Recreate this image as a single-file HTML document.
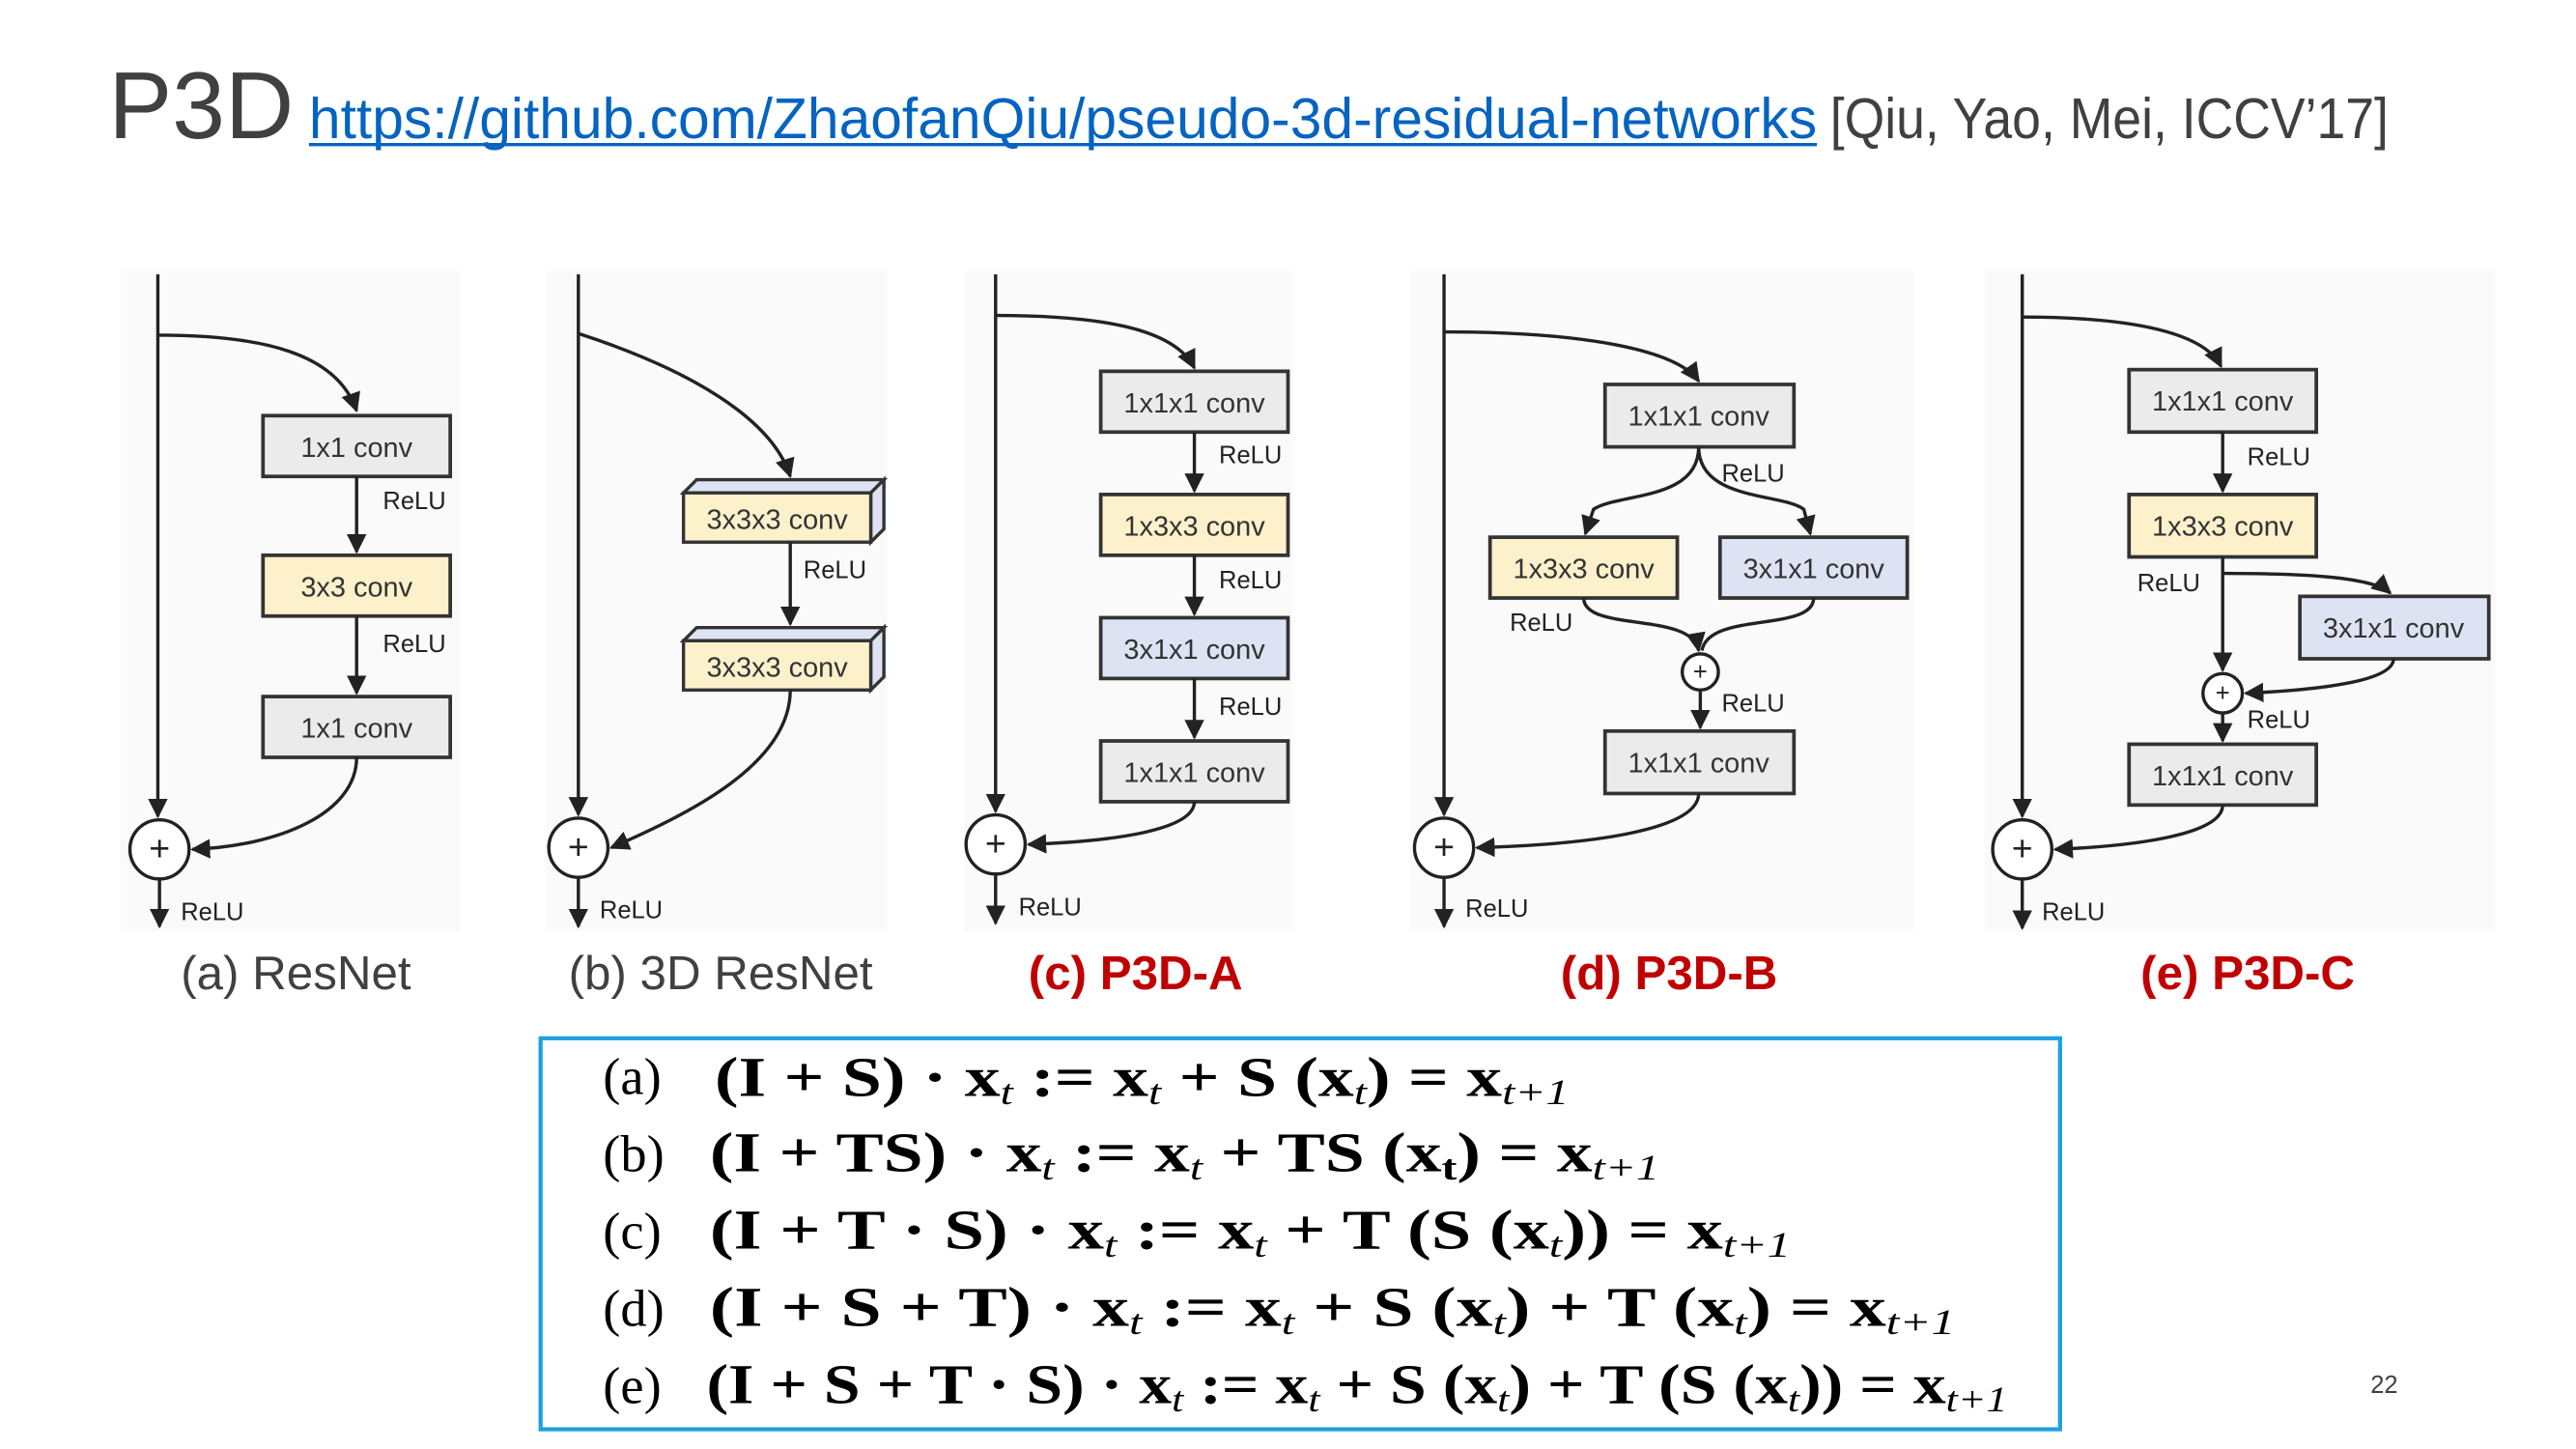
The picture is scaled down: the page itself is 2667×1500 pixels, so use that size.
<!DOCTYPE html>
<html><head><meta charset="utf-8"><style>
html,body{margin:0;padding:0;background:#fff;}
svg{display:block}
.bx{stroke:#333;stroke-width:2.2}
.g{fill:#ebebeb}.y{fill:#fdf1cc}.b{fill:#dde3f3}
.l{stroke:#222;stroke-width:2;fill:none}
.t{font-family:"Liberation Sans",sans-serif;font-size:17px;fill:#333;text-anchor:middle}
.r{font-family:"Liberation Sans",sans-serif;font-size:15px;fill:#222}
.cap{font-family:"Liberation Sans",sans-serif;font-size:29px;fill:#404040}
.red{font-family:"Liberation Sans",sans-serif;font-size:29px;fill:#c00000;font-weight:bold}
.eq{font-family:"Liberation Serif",serif;font-size:34px;fill:#000;font-weight:bold}
.lab{font-family:"Liberation Serif",serif;font-size:32px;fill:#000}
</style></head><body>
<svg width="2667" height="1500" viewBox="0 0 1568 882" xmlns="http://www.w3.org/2000/svg">
<defs><marker id="a" viewBox="0 0 10 10" refX="9" refY="5" markerWidth="6" markerHeight="6" orient="auto-start-reverse"><path d="M0,0L10,5L0,10z" fill="#222"/></marker></defs>
<rect width="1568" height="882" fill="#fff"/>
<text x="66" y="84" font-family="Liberation Sans,sans-serif" font-size="58" fill="#404040">P3D</text>
<text x="188" y="84" font-family="Liberation Sans,sans-serif" font-size="35" fill="#0563c1" textLength="918" lengthAdjust="spacingAndGlyphs">https://github.com/ZhaofanQiu/pseudo-3d-residual-networks</text>
<line x1="188" y1="88" x2="1106" y2="88" stroke="#0563c1" stroke-width="2"/>
<text x="1114" y="84" font-family="Liberation Sans,sans-serif" font-size="35" fill="#404040" textLength="340" lengthAdjust="spacingAndGlyphs">[Qiu, Yao, Mei, ICCV’17]</text>

<g fill="#fafafa"><rect x="73" y="165" width="207" height="402"/><rect x="332" y="165" width="208" height="402"/><rect x="587" y="165" width="200" height="402"/><rect x="858" y="165" width="307" height="402"/><rect x="1208" y="165" width="311" height="402"/></g>

<!-- (a) -->
<line class="l" x1="96" y1="167" x2="96" y2="497" marker-end="url(#a)"/>
<path class="l" d="M96,204 C160,204 205,215 217,250" marker-end="url(#a)"/>
<rect class="bx g" x="160" y="253" width="114" height="37"/><text class="t" x="217" y="278">1x1 conv</text>
<line class="l" x1="217" y1="290" x2="217" y2="336" marker-end="url(#a)"/><text class="r" x="233" y="310">ReLU</text>
<rect class="bx y" x="160" y="338" width="114" height="37"/><text class="t" x="217" y="363">3x3 conv</text>
<line class="l" x1="217" y1="375" x2="217" y2="422" marker-end="url(#a)"/><text class="r" x="233" y="397">ReLU</text>
<rect class="bx g" x="160" y="424" width="114" height="37"/><text class="t" x="217" y="449">1x1 conv</text>
<path class="l" d="M217,461 C217,495 170,515 117,517" marker-end="url(#a)"/>
<circle cx="97" cy="517" r="18" fill="#fff" stroke="#222" stroke-width="2"/><text x="97" y="524" text-anchor="middle" font-family="Liberation Sans" font-size="22" fill="#222">+</text>
<line class="l" x1="97" y1="535" x2="97" y2="564" marker-end="url(#a)"/><text class="r" x="110" y="560">ReLU</text>
<text class="cap" x="110" y="602">(a) ResNet</text>

<!-- (b) -->
<line class="l" x1="352" y1="167" x2="352" y2="496" marker-end="url(#a)"/>
<path class="l" d="M352,203 C420,225 470,255 481,290" marker-end="url(#a)"/>
<g stroke="#333" stroke-width="2"><path d="M416,300 L424,292 L538,292 L530,300z" fill="#dde3f3"/><path d="M530,300 L538,292 L538,322 L530,330z" fill="#dde3f3"/><rect x="416" y="300" width="114" height="30" fill="#fdf1cc"/>
<path d="M416,390 L424,382 L538,382 L530,390z" fill="#dde3f3"/><path d="M530,390 L538,382 L538,412 L530,420z" fill="#dde3f3"/><rect x="416" y="390" width="114" height="30" fill="#fdf1cc"/></g>
<text class="t" x="473" y="322">3x3x3 conv</text><text class="t" x="473" y="412">3x3x3 conv</text>
<line class="l" x1="481" y1="330" x2="481" y2="380" marker-end="url(#a)"/><text class="r" x="489" y="352">ReLU</text>
<path class="l" d="M481,420 C481,465 420,495 372,516" marker-end="url(#a)"/>
<circle cx="352" cy="516" r="18" fill="#fff" stroke="#222" stroke-width="2"/><text x="352" y="523" text-anchor="middle" font-family="Liberation Sans" font-size="22" fill="#222">+</text>
<line class="l" x1="352" y1="534" x2="352" y2="564" marker-end="url(#a)"/><text class="r" x="365" y="559">ReLU</text>
<text class="cap" x="346" y="602">(b) 3D ResNet</text>

<!-- (c) -->
<line class="l" x1="606" y1="167" x2="606" y2="494" marker-end="url(#a)"/>
<path class="l" d="M606,192 C670,192 715,200 727,224" marker-end="url(#a)"/>
<rect class="bx g" x="670" y="226" width="114" height="37"/><text class="t" x="727" y="251">1x1x1 conv</text>
<line class="l" x1="727" y1="263" x2="727" y2="299" marker-end="url(#a)"/><text class="r" x="742" y="282">ReLU</text>
<rect class="bx y" x="670" y="301" width="114" height="37"/><text class="t" x="727" y="326">1x3x3 conv</text>
<line class="l" x1="727" y1="338" x2="727" y2="374" marker-end="url(#a)"/><text class="r" x="742" y="358">ReLU</text>
<rect class="bx b" x="670" y="376" width="114" height="37"/><text class="t" x="727" y="401">3x1x1 conv</text>
<line class="l" x1="727" y1="413" x2="727" y2="449" marker-end="url(#a)"/><text class="r" x="742" y="435">ReLU</text>
<rect class="bx g" x="670" y="451" width="114" height="37"/><text class="t" x="727" y="476">1x1x1 conv</text>
<path class="l" d="M727,488 C727,505 680,512 626,514" marker-end="url(#a)"/>
<circle cx="606" cy="514" r="18" fill="#fff" stroke="#222" stroke-width="2"/><text x="606" y="521" text-anchor="middle" font-family="Liberation Sans" font-size="22" fill="#222">+</text>
<line class="l" x1="606" y1="532" x2="606" y2="562" marker-end="url(#a)"/><text class="r" x="620" y="557">ReLU</text>
<text class="red" x="626" y="602">(c) P3D-A</text>

<!-- (d) -->
<line class="l" x1="879" y1="167" x2="879" y2="496" marker-end="url(#a)"/>
<path class="l" d="M879,202 C960,202 1020,212 1034,232" marker-end="url(#a)"/>
<rect class="bx g" x="977" y="234" width="115" height="38"/><text class="t" x="1034" y="259">1x1x1 conv</text>
<text class="r" x="1048" y="293">ReLU</text>
<path class="l" d="M1034,272 C1034,305 985,300 970,310 L965,325" marker-end="url(#a)"/>
<path class="l" d="M1034,272 C1034,305 1085,300 1098,310 L1102,325" marker-end="url(#a)"/>
<rect class="bx y" x="907" y="327" width="114" height="37"/><text class="t" x="964" y="352">1x3x3 conv</text>
<rect class="bx b" x="1047" y="327" width="114" height="37"/><text class="t" x="1104" y="352">3x1x1 conv</text>
<text class="r" x="919" y="384">ReLU</text>
<path class="l" d="M964,364 C964,385 1030,372 1034,396" marker-end="url(#a)"/>
<path class="l" d="M1104,364 C1104,385 1040,372 1036,396"/>
<circle cx="1035" cy="409" r="11" fill="#fff" stroke="#222" stroke-width="2"/><text x="1035" y="414" text-anchor="middle" font-family="Liberation Sans" font-size="15" fill="#222">+</text>
<line class="l" x1="1035" y1="420" x2="1035" y2="443" marker-end="url(#a)"/><text class="r" x="1048" y="433">ReLU</text>
<rect class="bx g" x="977" y="445" width="115" height="38"/><text class="t" x="1034" y="470">1x1x1 conv</text>
<path class="l" d="M1034,483 C1034,505 970,514 899,516" marker-end="url(#a)"/>
<circle cx="879" cy="516" r="18" fill="#fff" stroke="#222" stroke-width="2"/><text x="879" y="523" text-anchor="middle" font-family="Liberation Sans" font-size="22" fill="#222">+</text>
<line class="l" x1="879" y1="534" x2="879" y2="564" marker-end="url(#a)"/><text class="r" x="892" y="558">ReLU</text>
<text class="red" x="950" y="602">(d) P3D-B</text>

<!-- (e) -->
<line class="l" x1="1231" y1="167" x2="1231" y2="497" marker-end="url(#a)"/>
<path class="l" d="M1231,193 C1300,193 1342,203 1352,223" marker-end="url(#a)"/>
<rect class="bx g" x="1296" y="225" width="114" height="38"/><text class="t" x="1353" y="250">1x1x1 conv</text>
<line class="l" x1="1353" y1="263" x2="1353" y2="299" marker-end="url(#a)"/><text class="r" x="1368" y="283">ReLU</text>
<rect class="bx y" x="1296" y="301" width="114" height="38"/><text class="t" x="1353" y="326">1x3x3 conv</text>
<text class="r" x="1301" y="360">ReLU</text>
<line class="l" x1="1353" y1="339" x2="1353" y2="408" marker-end="url(#a)"/>
<path class="l" d="M1353,349 C1410,349 1445,352 1455,361" marker-end="url(#a)"/>
<rect class="bx b" x="1400" y="363" width="115" height="38"/><text class="t" x="1457" y="388">3x1x1 conv</text>
<path class="l" d="M1457,401 C1457,415 1410,420 1367,422" marker-end="url(#a)"/>
<circle cx="1353" cy="422" r="12" fill="#fff" stroke="#222" stroke-width="2"/><text x="1353" y="427" text-anchor="middle" font-family="Liberation Sans" font-size="15" fill="#222">+</text>
<line class="l" x1="1353" y1="434" x2="1353" y2="451" marker-end="url(#a)"/><text class="r" x="1368" y="443">ReLU</text>
<rect class="bx g" x="1296" y="453" width="114" height="37"/><text class="t" x="1353" y="478">1x1x1 conv</text>
<path class="l" d="M1353,490 C1353,508 1300,515 1251,517" marker-end="url(#a)"/>
<circle cx="1231" cy="517" r="18" fill="#fff" stroke="#222" stroke-width="2"/><text x="1231" y="524" text-anchor="middle" font-family="Liberation Sans" font-size="22" fill="#222">+</text>
<line class="l" x1="1231" y1="535" x2="1231" y2="565" marker-end="url(#a)"/><text class="r" x="1243" y="560">ReLU</text>
<text class="red" x="1303" y="602">(e) P3D-C</text>

<!-- equations -->
<rect x="329" y="632" width="925" height="238" fill="#fff" stroke="#1ea0e0" stroke-width="2.5"/>
<text class="lab" x="367" y="666">(a)</text>
<text class="lab" x="367" y="713">(b)</text>
<text class="lab" x="367" y="760">(c)</text>
<text class="lab" x="367" y="807">(d)</text>
<text class="lab" x="367" y="854">(e)</text>
<text class="eq" x="435" y="667" textLength="520" lengthAdjust="spacingAndGlyphs">(I + S) · x<tspan font-style="italic" font-weight="normal" font-size="22" dy="5">t</tspan><tspan dy="-5"> := x</tspan><tspan font-style="italic" font-weight="normal" font-size="22" dy="5">t</tspan><tspan dy="-5"> + S (x</tspan><tspan font-style="italic" font-weight="normal" font-size="22" dy="5">t</tspan><tspan dy="-5">) = x</tspan><tspan font-style="italic" font-weight="normal" font-size="22" dy="5">t+1</tspan></text>
<text class="eq" x="432" y="713" textLength="578" lengthAdjust="spacingAndGlyphs">(I + TS) · x<tspan font-style="italic" font-weight="normal" font-size="22" dy="5">t</tspan><tspan dy="-5"> := x</tspan><tspan font-style="italic" font-weight="normal" font-size="22" dy="5">t</tspan><tspan dy="-5"> + TS (x</tspan><tspan font-size="22" dy="5">t</tspan><tspan dy="-5">) = x</tspan><tspan font-style="italic" font-weight="normal" font-size="22" dy="5">t+1</tspan></text>
<text class="eq" x="432" y="760" textLength="658" lengthAdjust="spacingAndGlyphs">(I + T · S) · x<tspan font-style="italic" font-weight="normal" font-size="22" dy="5">t</tspan><tspan dy="-5"> := x</tspan><tspan font-style="italic" font-weight="normal" font-size="22" dy="5">t</tspan><tspan dy="-5"> + T (S (x</tspan><tspan font-style="italic" font-weight="normal" font-size="22" dy="5">t</tspan><tspan dy="-5">)) = x</tspan><tspan font-style="italic" font-weight="normal" font-size="22" dy="5">t+1</tspan></text>
<text class="eq" x="432" y="807" textLength="758" lengthAdjust="spacingAndGlyphs">(I + S + T) · x<tspan font-style="italic" font-weight="normal" font-size="22" dy="5">t</tspan><tspan dy="-5"> := x</tspan><tspan font-style="italic" font-weight="normal" font-size="22" dy="5">t</tspan><tspan dy="-5"> + S (x</tspan><tspan font-style="italic" font-weight="normal" font-size="22" dy="5">t</tspan><tspan dy="-5">) + T (x</tspan><tspan font-style="italic" font-weight="normal" font-size="22" dy="5">t</tspan><tspan dy="-5">) = x</tspan><tspan font-style="italic" font-weight="normal" font-size="22" dy="5">t+1</tspan></text>
<text class="eq" x="430" y="854" textLength="792" lengthAdjust="spacingAndGlyphs">(I + S + T · S) · x<tspan font-style="italic" font-weight="normal" font-size="22" dy="5">t</tspan><tspan dy="-5"> := x</tspan><tspan font-style="italic" font-weight="normal" font-size="22" dy="5">t</tspan><tspan dy="-5"> + S (x</tspan><tspan font-style="italic" font-weight="normal" font-size="22" dy="5">t</tspan><tspan dy="-5">) + T (S (x</tspan><tspan font-style="italic" font-weight="normal" font-size="22" dy="5">t</tspan><tspan dy="-5">)) = x</tspan><tspan font-style="italic" font-weight="normal" font-size="22" dy="5">t+1</tspan></text>

<text x="1443" y="848" font-family="Liberation Sans,sans-serif" font-size="15" fill="#404040">22</text>
</svg>
</body></html>
